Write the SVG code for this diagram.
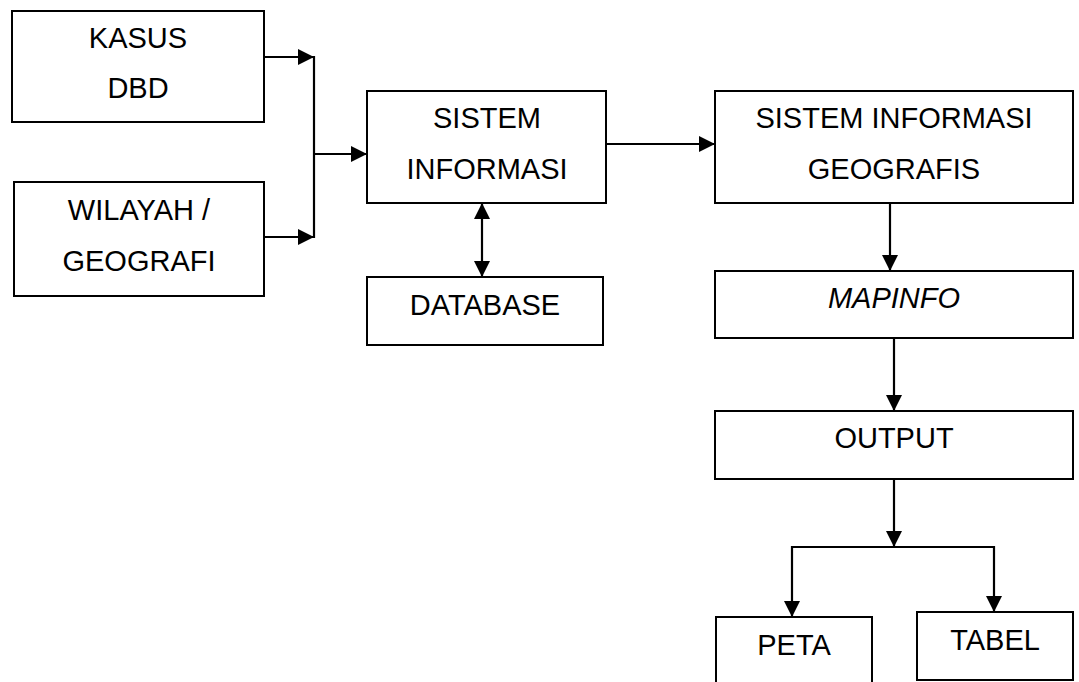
<svg xmlns="http://www.w3.org/2000/svg" width="1079" height="682" viewBox="0 0 1079 682">
<defs>
<marker id="ah" markerUnits="userSpaceOnUse" markerWidth="16" markerHeight="16" refX="16" refY="8" orient="auto-start-reverse">
<path d="M0,0 L16,8 L0,16 z" fill="#000"/>
</marker>
<style>
.box{fill:#fff;stroke:#000;stroke-width:2}
.t{font-family:"Liberation Sans",Arial,sans-serif;font-size:29px;fill:#000;text-anchor:middle}
.c{fill:none;stroke:#000;stroke-width:2.2}
</style>
</defs>
<rect width="1079" height="682" fill="#fff"/>
<g id="kasus"><rect class="box" x="12" y="11" width="252" height="111"/><text class="t" x="138" y="48">KASUS</text><text class="t" x="138" y="98">DBD</text></g>
<g id="wilayah"><rect class="box" x="14" y="182" width="250" height="114"/><text class="t" x="139" y="220">WILAYAH /</text><text class="t" x="139" y="271">GEOGRAFI</text></g>
<g id="si"><rect class="box" x="367" y="91" width="239" height="112"/><text class="t" x="487" y="128">SISTEM</text><text class="t" x="487" y="179">INFORMASI</text></g>
<g id="database"><rect class="box" x="367" y="277" width="236" height="68"/><text class="t" x="485" y="315">DATABASE</text></g>
<g id="sig"><rect class="box" x="715" y="91" width="358" height="112"/><text class="t" x="894" y="128">SISTEM INFORMASI</text><text class="t" x="894" y="179">GEOGRAFIS</text></g>
<g id="mapinfo"><rect class="box" x="715" y="271" width="358" height="67"/><text class="t" x="894" y="308" font-style="italic">MAPINFO</text></g>
<g id="output"><rect class="box" x="715" y="411" width="358" height="68"/><text class="t" x="894" y="448">OUTPUT</text></g>
<g id="peta"><rect class="box" x="716" y="617" width="156" height="80"/><text class="t" x="794" y="655">PETA</text></g>
<g id="tabel"><rect class="box" x="917" y="612" width="156" height="68"/><text class="t" x="995" y="650">TABEL</text></g>
<g id="connectors">
<path class="c" d="M264,57 H314" marker-end="url(#ah)"/>
<path class="c" d="M264,237 H314" marker-end="url(#ah)"/>
<path class="c" d="M314,56 V238"/>
<path class="c" d="M314,154 H367" marker-end="url(#ah)"/>
<path class="c" d="M606,144 H715" marker-end="url(#ah)"/>
<path class="c" d="M482,203 V277" marker-start="url(#ah)" marker-end="url(#ah)"/>
<path class="c" d="M890,203 V271" marker-end="url(#ah)"/>
<path class="c" d="M894,338 V411" marker-end="url(#ah)"/>
<path class="c" d="M894,479 V547" marker-end="url(#ah)"/>
<path class="c" d="M894,547 H792 V617" marker-end="url(#ah)"/>
<path class="c" d="M894,547 H994 V612" marker-end="url(#ah)"/>
</g>
</svg>
